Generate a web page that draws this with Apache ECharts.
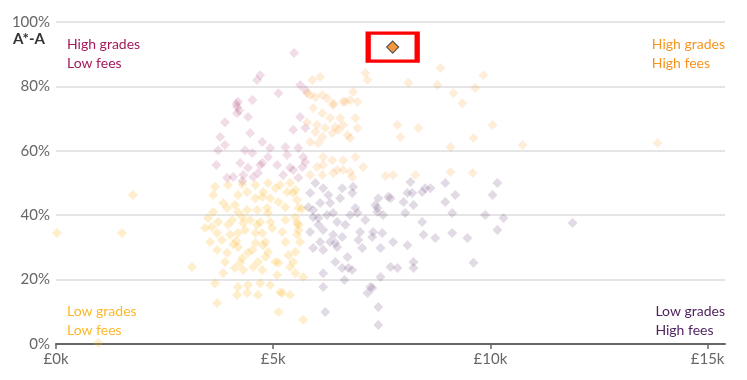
<!DOCTYPE html>
<html>
<head>
<meta charset="utf-8">
<script src="https://cdn.jsdelivr.net/npm/echarts@6/dist/echarts.min.js"></script>
<style>
html,body{margin:0;padding:0;background:#fff;}
#chart{width:747px;height:380px;}
</style>
</head>
<body>
<div id="chart"></div>
<script>
// [fees in £k, % of A*-A grades]
const highGradesLowFees = [
  [5.48,90.4],[4.70,83.5],[4.63,82.0],[5.12,77.9],[5.62,80.4],[5.74,78.9],[4.19,75.2],[4.17,73.6],
  [4.52,75.8],[3.89,68.9],[4.42,70.5],[4.17,71.7],[5.62,70.5],[5.46,66.5],[5.74,67.1],[3.78,64.3],
  [3.89,61.8],[4.47,65.5],[4.75,62.7],[4.35,60.2],[4.52,59.3],[4.93,60.9],[4.88,58.1],[5.28,61.2],
  [5.32,58.7],[5.58,60.9],[5.69,58.1],[4.24,56.2],[4.42,54.7],[4.70,55.6],[5.09,55.6],[5.39,54.7],
  [5.67,55.0],[4.08,51.9],[4.54,51.9],[3.94,51.6],[4.31,52.5],[4.65,53.1],[4.29,50.6],[5.23,52.5],
  [5.46,54.0],[5.58,51.6],[5.74,56.5],[3.73,60.2],[3.69,55.6],[4.75,56.2],[4.15,74.5],[4.22,72.5]
];
const highGradesHighFees = [
  [5.90,82.0],[6.08,82.9],[7.12,84.2],[7.17,82.0],[5.78,77.9],[5.97,76.7],[6.84,78.3],[6.61,75.2],
  [6.77,75.8],[6.94,75.2],[6.38,74.2],[5.92,73.3],[6.13,71.7],[6.31,70.2],[6.54,70.2],[6.89,70.2],
  [5.78,68.9],[6.01,68.0],[6.20,67.1],[6.43,67.4],[6.61,68.0],[5.97,65.8],[6.13,64.3],[6.36,65.5],
  [6.50,66.5],[6.71,64.9],[5.85,62.7],[6.04,62.4],[6.77,64.0],[6.94,67.1],[6.15,58.1],[6.36,57.1],
  [6.61,57.1],[6.89,58.1],[7.07,55.0],[6.01,55.0],[6.47,54.0],[6.77,53.4],[6.13,52.5],[8.85,85.7],
  [8.11,81.1],[8.78,80.4],[9.84,83.5],[9.65,79.5],[9.15,77.9],[9.35,74.8],[7.86,68.0],[7.93,64.3],
  [8.34,67.1],[10.05,68.0],[9.61,64.0],[9.08,61.2],[10.74,61.8],[7.58,52.2],[7.76,52.5],[8.27,52.5],
  [9.08,53.4],[9.59,53.1],[13.85,62.4],[5.85,77.3],[6.13,77.3],[6.38,74.8],[6.24,76.4],[6.66,75.2],
  [6.15,55.6],[6.38,53.1],[6.61,54.0],[6.82,51.9],[5.85,52.5]
];
const lowGradesHighFees = [
  [5.97,50.0],[6.15,48.4],[6.59,48.4],[6.84,48.8],[6.82,46.9],[5.85,46.9],[6.08,43.8],[6.31,43.8],
  [5.92,41.6],[6.04,39.1],[6.24,40.1],[6.38,40.7],[6.89,42.2],[6.94,40.7],[7.42,45.3],[7.40,42.2],
  [7.65,45.7],[8.00,44.1],[8.09,46.9],[8.43,47.2],[8.23,43.2],[8.50,48.4],[8.16,50.3],[5.85,34.8],
  [6.15,35.4],[6.38,33.9],[6.31,31.7],[6.47,30.1],[6.15,29.2],[5.92,29.8],[7.00,34.8],[7.30,34.8],
  [7.51,34.5],[7.28,33.2],[6.96,32.3],[7.05,29.8],[7.47,29.8],[7.76,31.7],[8.09,30.7],[8.46,33.9],
  [8.73,32.9],[8.43,37.9],[6.71,27.0],[6.43,25.5],[6.73,23.6],[6.59,23.6],[6.15,22.0],[6.82,23.0],
  [7.70,23.9],[7.86,23.6],[8.23,25.5],[8.23,23.6],[7.47,20.8],[6.15,17.7],[7.24,17.7],[7.17,15.8],
  [7.42,11.5],[6.20,9.9],[7.42,5.9],[7.70,45.3],[8.20,46.9],[8.62,48.4],[7.35,43.2],[7.40,41.0],
  [7.53,40.1],[8.04,40.7],[8.96,50.0],[8.96,44.1],[9.19,46.3],[10.16,50.0],[10.05,46.3],[9.12,40.7],
  [9.88,40.1],[10.30,39.1],[10.16,35.4],[9.12,34.5],[9.47,32.9],[11.89,37.6],[9.61,25.2],[7.28,17.4],
  [6.64,19.9],[6.54,45.3],[6.66,37.0],[6.04,37.0],[6.77,40.1],[6.47,37.9],[7.12,38.5],[6.27,46.3],
  [5.81,42.5],[5.92,39.4],[6.08,31.7],[6.43,31.4],[6.59,33.2]
];
const lowGradesLowFees = [
  [3.66,48.8],[3.85,43.8],[4.12,43.2],[4.19,46.3],[4.40,47.2],[4.59,45.3],[4.88,50.0],[4.77,47.2],
  [5.12,44.1],[5.32,47.2],[5.51,47.8],[5.55,44.7],[5.39,50.0],[4.29,49.6],[3.50,39.1],[3.73,37.9],
  [4.06,38.5],[4.29,39.4],[4.47,38.5],[4.70,37.9],[4.63,41.6],[4.19,41.0],[4.40,41.6],[4.88,40.7],
  [4.98,36.0],[5.28,38.5],[5.58,37.0],[5.21,34.8],[5.55,33.9],[5.62,31.7],[3.55,31.7],[3.71,29.2],
  [3.94,28.3],[4.19,30.1],[4.59,31.4],[4.52,29.2],[4.77,30.7],[4.88,28.6],[5.28,31.7],[4.82,27.0],
  [4.29,26.7],[4.12,23.6],[4.31,23.0],[4.54,23.9],[4.75,23.0],[3.13,23.9],[3.85,22.0],[5.09,21.4],
  [5.39,23.9],[5.51,22.0],[5.69,20.8],[3.66,18.9],[4.19,17.7],[4.42,18.3],[4.70,18.9],[4.93,18.3],
  [5.16,16.1],[5.39,15.2],[4.17,15.2],[3.71,12.7],[5.12,9.9],[5.69,7.5],[4.40,15.8],[5.46,46.9],
  [5.55,37.6],[5.58,35.4],[5.46,25.5],[4.65,15.2],[5.21,15.8],[0.97,0.3],[0.02,34.5],[1.52,34.5],
  [1.77,46.3],[3.62,41.0],[3.43,36.0],[3.62,46.3],[3.96,49.4],[4.59,49.4],[5.05,48.4],[4.93,45.3],
  [5.28,42.5],[4.35,35.4],[4.75,34.5],[4.01,33.9],[5.35,27.6],[5.05,25.5],[3.89,25.5],[4.08,31.0],
  [4.15,32.0],[5.66,42.0],[5.16,49.4],[4.75,45.7],[3.94,42.2],[4.86,42.2],[5.58,42.2],[5.51,39.4],
  [3.59,36.3],[3.96,37.0],[4.31,37.6],[4.63,37.0],[4.93,37.9],[3.71,34.5],[4.19,34.5],[4.59,34.5],
  [3.82,32.3],[4.82,31.7],[5.51,28.6],[4.42,28.3],[4.24,25.2],[4.65,25.5],[5.12,25.2]
];
const highlighted = [[7.75,92.2]];
const xTicks = [0,5,10,15];
const yTicks = [0,20,40,60,80,100];

const FONT = "Lato, sans-serif";
const C = {pink:'#a3195b', orange:'#f7941d', yellow:'#fbb829', purple:'#4d1f5e'};

function scatter(name, data, color, op){
  return {
    name, type:'scatter', data, symbol:'diamond', symbolSize:10,
    itemStyle:{color, opacity:op}, silent:true, z:2
  };
}

const chart = echarts.init(document.getElementById('chart'), null, {renderer:'canvas'});
chart.setOption({
  animation:false,
  grid:{left:56, right:22, top:22, bottom:36, containLabel:false},
  xAxis:{
    type:'value', min:0, max:15.4, interval:5,
    axisLine:{show:true, lineStyle:{color:'#666', width:2}},
    axisTick:{show:true, length:5, inside:false, customValues:xTicks, lineStyle:{color:'#666', width:1.5}},
    axisLabel:{customValues:xTicks, formatter:v=>'£'+v+'k', color:'#666', fontSize:15, fontFamily:FONT, margin:8},
    splitLine:{show:false}
  },
  yAxis:{
    type:'value', min:0, max:100, interval:20,
    axisLine:{show:false}, axisTick:{show:false},
    axisLabel:{customValues:yTicks, formatter:v=>v+'%', color:'#666', fontSize:15, fontFamily:FONT, margin:6},
    splitLine:{show:true, lineStyle:{color:'#ddd', width:1.5}}
  },
  series:[
    scatter('Low grades, low fees', lowGradesLowFees, C.yellow, 0.24),
    scatter('Low grades, high fees', lowGradesHighFees, C.purple, 0.16),
    scatter('High grades, low fees', highGradesLowFees, C.pink, 0.15),
    scatter('High grades, high fees', highGradesHighFees, C.orange, 0.17),
    {
      name:'Highlighted', type:'scatter', data:highlighted, symbol:'diamond', symbolSize:12,
      itemStyle:{color:'#f07e12', borderColor:'#333', borderWidth:1.2}, z:5,
      markPoint:{
        symbol:'rect', symbolSize:[49,28], silent:true, label:{show:false},
        itemStyle:{color:'rgba(0,0,0,0)', borderColor:'#ff0000', borderWidth:4},
        data:[{coord:highlighted[0]}]
      }
    }
  ],
  graphic:[
    {type:'text', left:13, top:32, style:{text:'A*-A', font:"bold 15px "+FONT, fill:'#333'}},
    {type:'text', left:67, top:35, style:{text:'High grades\nLow fees', font:"14px "+FONT, fill:C.pink, lineHeight:19}},
    {type:'text', right:22, top:35, style:{text:'High grades\nHigh fees', font:"14px "+FONT, fill:C.orange, lineHeight:19, align:'right'}},
    {type:'text', left:67, top:302, style:{text:'Low grades\nLow fees', font:"14px "+FONT, fill:C.yellow, lineHeight:19}},
    {type:'text', right:22, top:302, style:{text:'Low grades\nHigh fees', font:"14px "+FONT, fill:C.purple, lineHeight:19, align:'right'}}
  ]
});
</script>
</body>
</html>
